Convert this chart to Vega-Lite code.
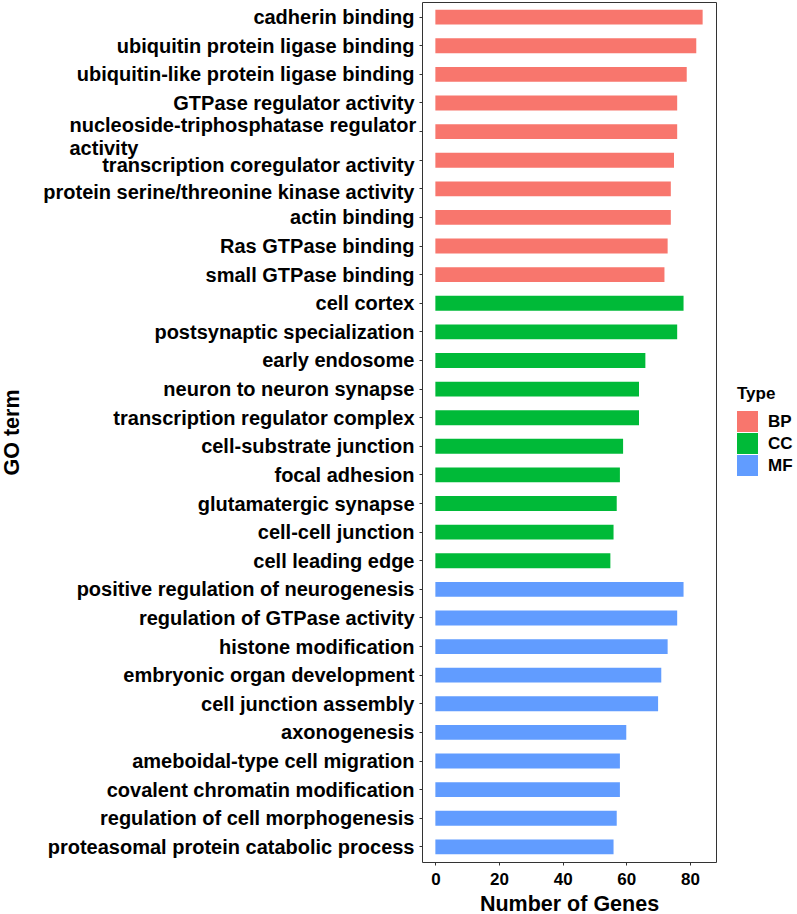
{
  "$schema": "https://vega.github.io/schema/vega-lite/v6.json",
  "autosize": "none",
  "width": 294,
  "height": 860,
  "padding": {"left": 422, "top": 2, "right": 81, "bottom": 52},
  "background": "white",
  "config": {
    "view": {"stroke": "#333333", "strokeWidth": 1},
    "font": "Liberation Sans"
  },
  "data": {
    "values": [
      {"term": "cadherin binding", "genes": 84, "Type": "BP"},
      {"term": "ubiquitin protein ligase binding\u00a0", "genes": 82, "Type": "BP"},
      {"term": "ubiquitin-like protein ligase binding", "genes": 79, "Type": "BP"},
      {"term": "GTPase regulator activity", "genes": 76, "Type": "BP"},
      {"term": "nucleoside-triphosphatase regulator activity", "genes": 76, "Type": "BP"},
      {"term": "transcription coregulator activity\u00a0", "genes": 75, "Type": "BP"},
      {"term": "protein serine/threonine kinase activity", "genes": 74, "Type": "BP"},
      {"term": "actin binding", "genes": 74, "Type": "BP"},
      {"term": "Ras GTPase binding", "genes": 73, "Type": "BP"},
      {"term": "small GTPase binding", "genes": 72, "Type": "BP"},
      {"term": "cell cortex\u00a0", "genes": 78, "Type": "CC"},
      {"term": "postsynaptic specialization", "genes": 76, "Type": "CC"},
      {"term": "early endosome", "genes": 66, "Type": "CC"},
      {"term": "neuron to neuron synapse", "genes": 64, "Type": "CC"},
      {"term": "transcription regulator complex", "genes": 64, "Type": "CC"},
      {"term": "cell-substrate junction", "genes": 59, "Type": "CC"},
      {"term": "focal adhesion", "genes": 58, "Type": "CC"},
      {"term": "glutamatergic synapse\u00a0", "genes": 57, "Type": "CC"},
      {"term": "cell-cell junction", "genes": 56, "Type": "CC"},
      {"term": "cell leading edge", "genes": 55, "Type": "CC"},
      {"term": "positive regulation of neurogenesis\u00a0", "genes": 78, "Type": "MF"},
      {"term": "regulation of GTPase activity", "genes": 76, "Type": "MF"},
      {"term": "histone modification", "genes": 73, "Type": "MF"},
      {"term": "embryonic organ development\u00a0", "genes": 71, "Type": "MF"},
      {"term": "cell junction assembly", "genes": 70, "Type": "MF"},
      {"term": "axonogenesis", "genes": 60, "Type": "MF"},
      {"term": "ameboidal-type cell migration", "genes": 58, "Type": "MF"},
      {"term": "covalent chromatin modification", "genes": 58, "Type": "MF"},
      {"term": "regulation of cell morphogenesis", "genes": 57, "Type": "MF"},
      {"term": "proteasomal protein catabolic process", "genes": 56, "Type": "MF"}
    ]
  },
  "mark": {"type": "bar"},
  "encoding": {
    "y": {
      "field": "term",
      "type": "nominal",
      "sort": null,
      "scale": {"paddingInner": 0.48, "paddingOuter": 0.27},
      "axis": {
        "title": "GO term",
        "titleFontSize": 21.5,
        "titleFontWeight": "bold",
        "titleColor": "black",
        "titleX": -399,
        "labelFontSize": 20,
        "labelFontWeight": "bold",
        "labelColor": "black",
        "labelPadding": {"condition": {"test": "datum.value == 'nucleoside-triphosphatase regulator activity'", "value": 350}, "value": 5},
        "labelAlign": {"condition": {"test": "datum.value == 'nucleoside-triphosphatase regulator activity'", "value": "left"}, "value": "right"},
        "labelOffset": {"condition": [
          {"test": "datum.value == 'nucleoside-triphosphatase regulator activity'", "value": -6},
          {"test": "indexof(datum.value, 'transcription coregulator') == 0", "value": 6},
          {"test": "indexof(datum.value, 'protein serine') == 0", "value": 4}
        ], "value": 1},
        "labelLimit": 0,
        "labelLineHeight": 23,
        "labelExpr": "datum.value == 'nucleoside-triphosphatase regulator activity' ? ['nucleoside-triphosphatase regulator', 'activity'] : datum.label",
        "tickSize": 3,
        "tickColor": "#333333",
        "domain": false,
        "grid": false
      }
    },
    "x": {
      "field": "genes",
      "type": "quantitative",
      "scale": {"domain": [-4.2, 88.2], "nice": false, "zero": false},
      "axis": {
        "title": "Number of Genes",
        "titleFontSize": 21.5,
        "titleFontWeight": "bold",
        "titleColor": "black",
        "titlePadding": 6,
        "values": [0, 20, 40, 60, 80],
        "labelFontSize": 17,
        "labelFontWeight": "bold",
        "labelColor": "black",
        "labelPadding": 6,
        "tickSize": 3,
        "tickColor": "#333333",
        "domain": false,
        "grid": false
      }
    },
    "x2": {"datum": 0},
    "color": {
      "field": "Type",
      "type": "nominal",
      "scale": {"domain": ["BP", "CC", "MF"], "range": ["#F8766D", "#00BA38", "#619CFF"]},
      "legend": {
        "orient": "none",
        "legendX": 315,
        "legendY": 384,
        "title": "Type",
        "titleFontSize": 17,
        "titleFontWeight": "bold",
        "titleColor": "black",
        "titlePadding": 8,
        "labelFontSize": 17,
        "labelFontWeight": "bold",
        "labelColor": "black",
        "labelOffset": 10,
        "symbolType": "square",
        "symbolSize": 441,
        "symbolStrokeWidth": 0,
        "symbolOpacity": 1,
        "rowPadding": 1
      }
    }
  }
}
